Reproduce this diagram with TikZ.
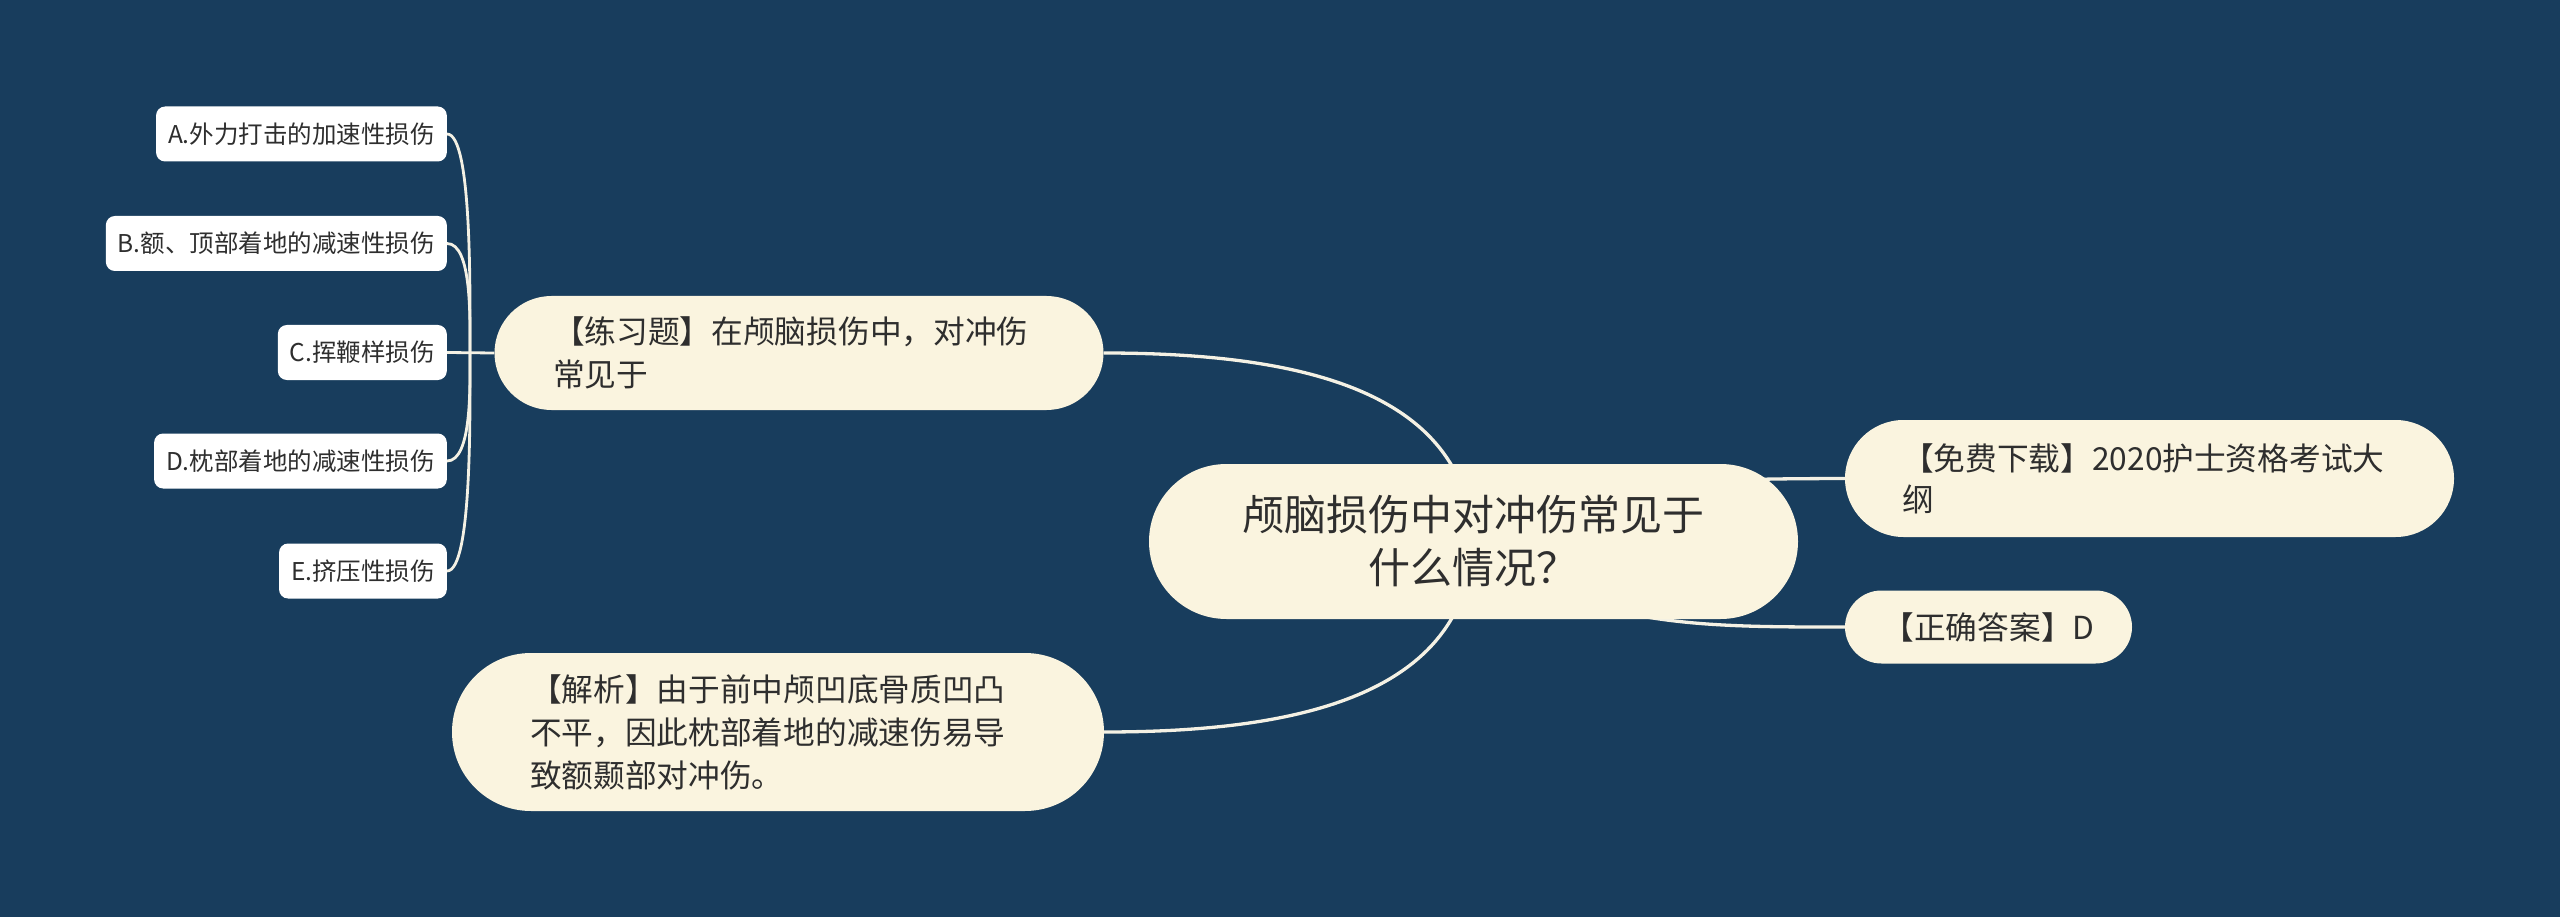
\documentclass[tikz,border=0pt]{standalone}
\usepackage{fontspec}
\setmainfont{Noto Sans CJK SC}
\definecolor{bgcol}{HTML}{183D5D}
\definecolor{nodecol}{HTML}{FAF4DF}
\definecolor{linecol}{HTML}{F4F1E4}
\definecolor{txtcol}{HTML}{2E2E2E}
\pgfdeclarelayer{bglayer}
\pgfdeclarelayer{linelayer}
\pgfsetlayers{bglayer,linelayer,main}
\tikzset{
  conn/.style={draw=linecol, line width=3.3pt},
  leafconn/.style={draw=linecol, line width=2.8pt},
  pill/.style={fill=nodecol, text=txtcol, inner sep=0pt, rounded corners=#1},
  leaf/.style={fill=white, text=txtcol, inner xsep=12pt, inner ysep=0pt, minimum height=55pt, rounded corners=9pt, anchor=east, font=\fontsize{24.5}{30}\selectfont},
  big/.style={font=\fontsize{31.7}{43}\selectfont},
}
\begin{document}
\begin{tikzpicture}[x=1pt,y=-1pt]
\begin{pgfonlayer}{bglayer}
\fill[bgcol] (0,0) rectangle (2560,917);
\end{pgfonlayer}
\useasboundingbox (0,0) rectangle (2560,917);

% main nodes
\node[pill=57pt, big, minimum width=609pt, minimum height=114pt, text width=492pt, align=left] (practice) at (799,353) {【练习题】在颅脑损伤中，对冲伤\\常见于};
\node[pill=77.5pt, font=\fontsize{42}{53}\selectfont, minimum width=649pt, minimum height=155pt, align=center] (central) at (1473.5,541.5) {颅脑损伤中对冲伤常见于\\什么情况？};
\node[pill=58.5pt, font=\fontsize{31.7}{41}\selectfont, minimum width=609pt, minimum height=117pt, text width=495pt, align=left] (download) at (2149.5,478.5) {【免费下载】2020护士资格考试大\\纲};
\node[pill=36.5pt, big, minimum width=287pt, minimum height=73pt] (answer) at (1988.5,627) {【正确答案】D};
\node[pill=79pt, big, minimum width=652pt, minimum height=158pt, text width=496pt, align=left] (analysis) at (778,732) {【解析】由于前中颅凹底骨质凹凸\\不平，因此枕部着地的减速伤易导\\致额颞部对冲伤。};

% leaves
\node[leaf] (A) at (447,134) {A.外力打击的加速性损伤};
\node[leaf] (B) at (447,243.5) {B.额、顶部着地的减速性损伤};
\node[leaf] (C) at (447,352.5) {C.挥鞭样损伤};
\node[leaf] (D) at (447,461) {D.枕部着地的减速性损伤};
\node[leaf] (E) at (447,571) {E.挤压性损伤};
\coordinate (merge) at (470,352.5);

\begin{pgfonlayer}{linelayer}
\draw[leafconn] (A.east) .. controls (472,134) and (470,290) .. (merge);
\draw[leafconn] (B.east) .. controls (472,243.5) and (470,318) .. (merge);
\draw[leafconn] (C.east) -- (practice.west);
\draw[leafconn] (D.east) .. controls (472,461) and (470,387) .. (merge);
\draw[leafconn] (E.east) .. controls (472,571) and (470,415) .. (merge);

\draw[conn] (practice.east) .. controls (1300,353) and (1465,390) .. (central.center);
\draw[conn] (analysis.east) .. controls (1300,732) and (1465,695) .. (central.center);
\draw[conn] (central.center) .. controls (1600,479) and (1700,479) .. (download.west);
\draw[conn] (central.center) .. controls (1580,628) and (1700,627) .. (answer.west);
\end{pgfonlayer}
\end{tikzpicture}
\end{document}
